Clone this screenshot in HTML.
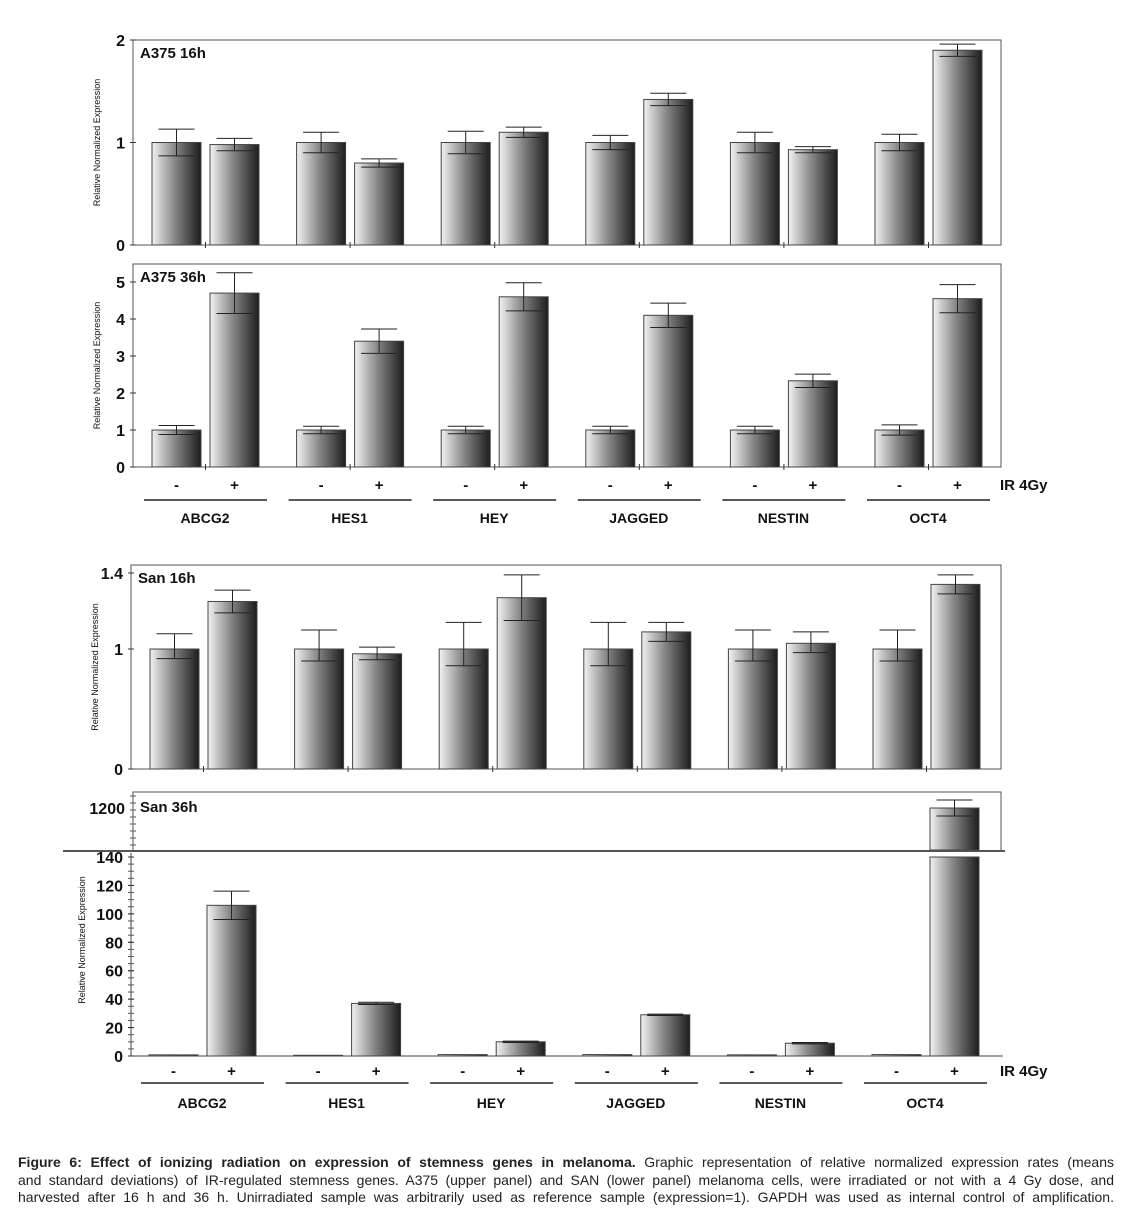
<!DOCTYPE html>
<html><head><meta charset="utf-8"><style>
body{margin:0;background:#fff;width:1131px;height:1216px;overflow:hidden;font-family:"Liberation Sans",Arial,sans-serif;}
#cap{position:absolute;left:18px;top:1154px;width:1096px;font-size:14px;line-height:17.5px;color:#222;}
#cap div{white-space:nowrap;text-align:justify;text-align-last:justify;}
#cap div.last{text-align-last:justify;}
</style></head><body>
<svg id="fig" width="1131" height="1150" style="position:absolute;left:0;top:0" font-family="Liberation Sans, Arial, sans-serif">
<defs><linearGradient id="g" x1="0" x2="1" y1="0" y2="0"><stop offset="0" stop-color="#f2f2f2"/><stop offset="0.45" stop-color="#8a8a8a"/><stop offset="1" stop-color="#1c1c1c"/></linearGradient></defs>
</svg>
<div id="cap"><div><b>Figure 6: Effect of ionizing radiation on expression of stemness genes in melanoma.</b> Graphic representation of relative normalized expression rates (means</div><div>and standard deviations) of IR-regulated stemness genes. A375 (upper panel) and SAN (lower panel) melanoma cells, were irradiated or not with a 4 Gy dose, and</div><div class="last">harvested after 16 h and 36 h. Unirradiated sample was arbitrarily used as reference sample (expression=1). GAPDH was used as internal control of amplification.</div></div>
<script>
const genes=["ABCG2","HES1","HEY","JAGGED","NESTIN","OCT4"];
const a16ctrl=[1,1,1,1,1,1];
const a16ir=[0.98,0.8,1.1,1.42,0.93,1.9];
const a16ctrlErr=[0.13,0.1,0.11,0.07,0.1,0.08];
const a16irErr=[0.06,0.04,0.05,0.06,0.03,0.06];
const a36ctrl=[1,1,1,1,1,1];
const a36ir=[4.7,3.4,4.6,4.1,2.33,4.55];
const a36ctrlErr=[0.12,0.1,0.1,0.1,0.1,0.14];
const a36irErr=[0.55,0.33,0.38,0.33,0.18,0.38];
const s16ctrl=[1,1,1,1,1,1];
const s16ir=[1.25,0.96,1.27,1.09,1.03,1.34];
const s16ctrlErr=[0.08,0.1,0.14,0.14,0.1,0.1];
const s16irErr=[0.06,0.05,0.12,0.05,0.06,0.05];
const s36ctrl=[0.8,0.5,1,1,0.8,1];
const s36ir=[106,37,10,29,9,1200];
const s36ctrlErr=[0,0,0,0,0,0];
const s36irErr=[10,0.8,0.5,0.5,0.5,16];
const a16ticks=[0,1,2], a36ticks=[0,1,2,3,4,5], s16ticks=[0,1,1.4], s36ticks=[0,20,40,60,80,100,120,140];
const NS="http://www.w3.org/2000/svg";
const svg=document.getElementById('fig');
function mk(tag,at,parent){const e=document.createElementNS(NS,tag);for(const k in at)e.setAttribute(k,at[k]);(parent||svg).appendChild(e);return e;}
function txt(x,y,s,size,anchor,bold,parent){const t=mk('text',{x:x,y:y,'font-size':size,'text-anchor':anchor||'start','font-weight':bold?'bold':'normal',fill:'#111'},parent);t.textContent=s;return t;}
function panel(name,title,x0,x1,yTop,yBot,y,ticks,ctrl,ir,ce,ie,ctrlX,yAxisTitle){
  const g=mk('g',{});
  
  
  mk('rect',{x:x0,y:yTop,width:x1-x0,height:yBot-yTop,fill:'none',stroke:'#555','stroke-width':1},g);
  const tl=txt(x0+7,yTop+18,title,15,'start',true,g);
  
  
  ticks.forEach(t=>{mk('line',{x1:x0-3,x2:x0+3,y1:y(t),y2:y(t),stroke:'#333'},g);
    const l=txt(x0-8,y(t)+6,String(t),16,'end',true,g);
    
    });
  genes.forEach((gn,i)=>{
    const bx=[ctrlX+i*144.6, ctrlX+58+i*144.6];
    [[ctrl[i],ce[i],bx[0]],[ir[i],ie[i],bx[1]]].forEach(([v,e,x],j)=>{
      const r=mk('rect',{x:x,y:y(v),width:49,height:yBot-y(v),fill:'url(#g)',stroke:'#444','stroke-width':1},g);
      
      
      if(e>0){const cx=x+24.5;
        mk('line',{x1:cx,x2:cx,y1:y(v+e),y2:y(v-e),stroke:'#222'},g);
        mk('line',{x1:cx-18,x2:cx+18,y1:y(v+e),y2:y(v+e),stroke:'#222'},g);
        mk('line',{x1:cx-18,x2:cx+18,y1:y(v-e),y2:y(v-e),stroke:'#222'},g);}
    });
    mk('line',{x1:ctrlX+53.5+i*144.6,x2:ctrlX+53.5+i*144.6,y1:yBot-3,y2:yBot+3,stroke:'#333'},g);
  });
  const at=txt(0,0,yAxisTitle,9,'middle',false,g);
  at.setAttribute('transform','translate('+(x0-33)+','+((yTop+yBot)/2)+') rotate(-90)');
  
  
}
function xaxis(name,ctrlX,ySign,yLine,yName){
  const g=mk('g',{});
  
  
  genes.forEach((gn,i)=>{
    const cx=ctrlX+i*144.6;
    txt(cx+24.5,ySign,'-',15,'middle',true,g);
    txt(cx+82.5,ySign,'+',15,'middle',true,g);
    mk('line',{x1:cx-8,x2:cx+115,y1:yLine,y2:yLine,stroke:'#222','stroke-width':1.5},g);
    const n=txt(cx+53,yName,gn,14,'middle',true,g);
    
    
  });
  const ir=txt(1000,ySign,'IR 4Gy',15,'start',true,g);
  
  
}
panel('panel-a375-16h','A375 16h',133,1001,40,245,v=>245-v*102.5,a16ticks,a16ctrl,a16ir,a16ctrlErr,a16irErr,152,'Relative Normalized Expression');
panel('panel-a375-36h','A375 36h',133,1001,264,467,v=>467-v*37,a36ticks,a36ctrl,a36ir,a36ctrlErr,a36irErr,152,'Relative Normalized Expression');
xaxis('x-axis-a375',152,490,500,523);
panel('panel-san-16h','San 16h',131,1001,565,769,v=>v<=1?769-v*120:649-(v-1)*190,s16ticks,s16ctrl,s16ir,s16ctrlErr,s16irErr,150,'Relative Normalized Expression');
(function(){
  const x0=131,yBot=1056,yTop=857,vmax=140;
  const g=mk('g',{});
  
  
  const y=v=>yBot-(v/vmax)*(yBot-yTop);
  const yU=v=>808+(1200-v)*0.5;
  mk('line',{x1:x0,x2:x0,y1:yTop-4,y2:yBot,stroke:'#444'},g);
  mk('line',{x1:x0,x2:1003,y1:yBot,y2:yBot,stroke:'#444'},g);
  mk('path',{d:'M133 850 V792 H1001 V850',fill:'none',stroke:'#555'},g);
  for(let k=0;k<8;k++)mk('line',{x1:130,x2:136,y1:796+k*7,y2:796+k*7,stroke:'#555'},g);
  for(let k=0;k<28;k++)mk('line',{x1:128,x2:134,y1:y(k*5),y2:y(k*5),stroke:'#555'},g);
  mk('line',{x1:63,x2:1005,y1:851,y2:851,stroke:'#555','stroke-width':2},g);
  const tl=txt(140,812,'San 36h',15,'start',true,g);
  
  
  const l1=txt(125,814,'1200',16,'end',true,g);
  
  
  s36ticks.forEach(t=>{mk('line',{x1:x0-3,x2:x0+3,y1:y(t),y2:y(t),stroke:'#333'},g);
    const l=txt(x0-8,y(t)+6,String(t),16,'end',true,g);
    
    });
  genes.forEach((gn,i)=>{
    const bx=[149+i*144.6,207+i*144.6];
    [[s36ctrl[i],s36ctrlErr[i],bx[0]],[s36ir[i],s36irErr[i],bx[1]]].forEach(([v,e,x],j)=>{
      let r;
      if(v>vmax){
        r=mk('rect',{x:x,y:yTop,width:49,height:yBot-yTop,fill:'url(#g)',stroke:'#444'},g);
        mk('rect',{x:x,y:yU(v),width:49,height:850-yU(v),fill:'url(#g)',stroke:'#444'},g);
        const cx=x+24.5;
        mk('line',{x1:cx,x2:cx,y1:yU(v+e),y2:yU(v-e),stroke:'#222'},g);
        mk('line',{x1:cx-18,x2:cx+18,y1:yU(v+e),y2:yU(v+e),stroke:'#222'},g);
        mk('line',{x1:cx-18,x2:cx+18,y1:yU(v-e),y2:yU(v-e),stroke:'#222'},g);
      } else {
        r=mk('rect',{x:x,y:y(v),width:49,height:Math.max(yBot-y(v),0.5),fill:'url(#g)',stroke:'#444'},g);
        if(e>0){const cx=x+24.5;
          mk('line',{x1:cx,x2:cx,y1:y(v+e),y2:y(v-e),stroke:'#222'},g);
          mk('line',{x1:cx-18,x2:cx+18,y1:y(v+e),y2:y(v+e),stroke:'#222'},g);
          mk('line',{x1:cx-18,x2:cx+18,y1:y(v-e),y2:y(v-e),stroke:'#222'},g);}
      }
      
      
    });
  });
  const at=txt(0,0,'Relative Normalized Expression',9,'middle',false,g);
  at.setAttribute('transform','translate(85,940) rotate(-90)');
  
  
})();
xaxis('x-axis-san',149,1076,1083,1108);
</script>
</body></html>
